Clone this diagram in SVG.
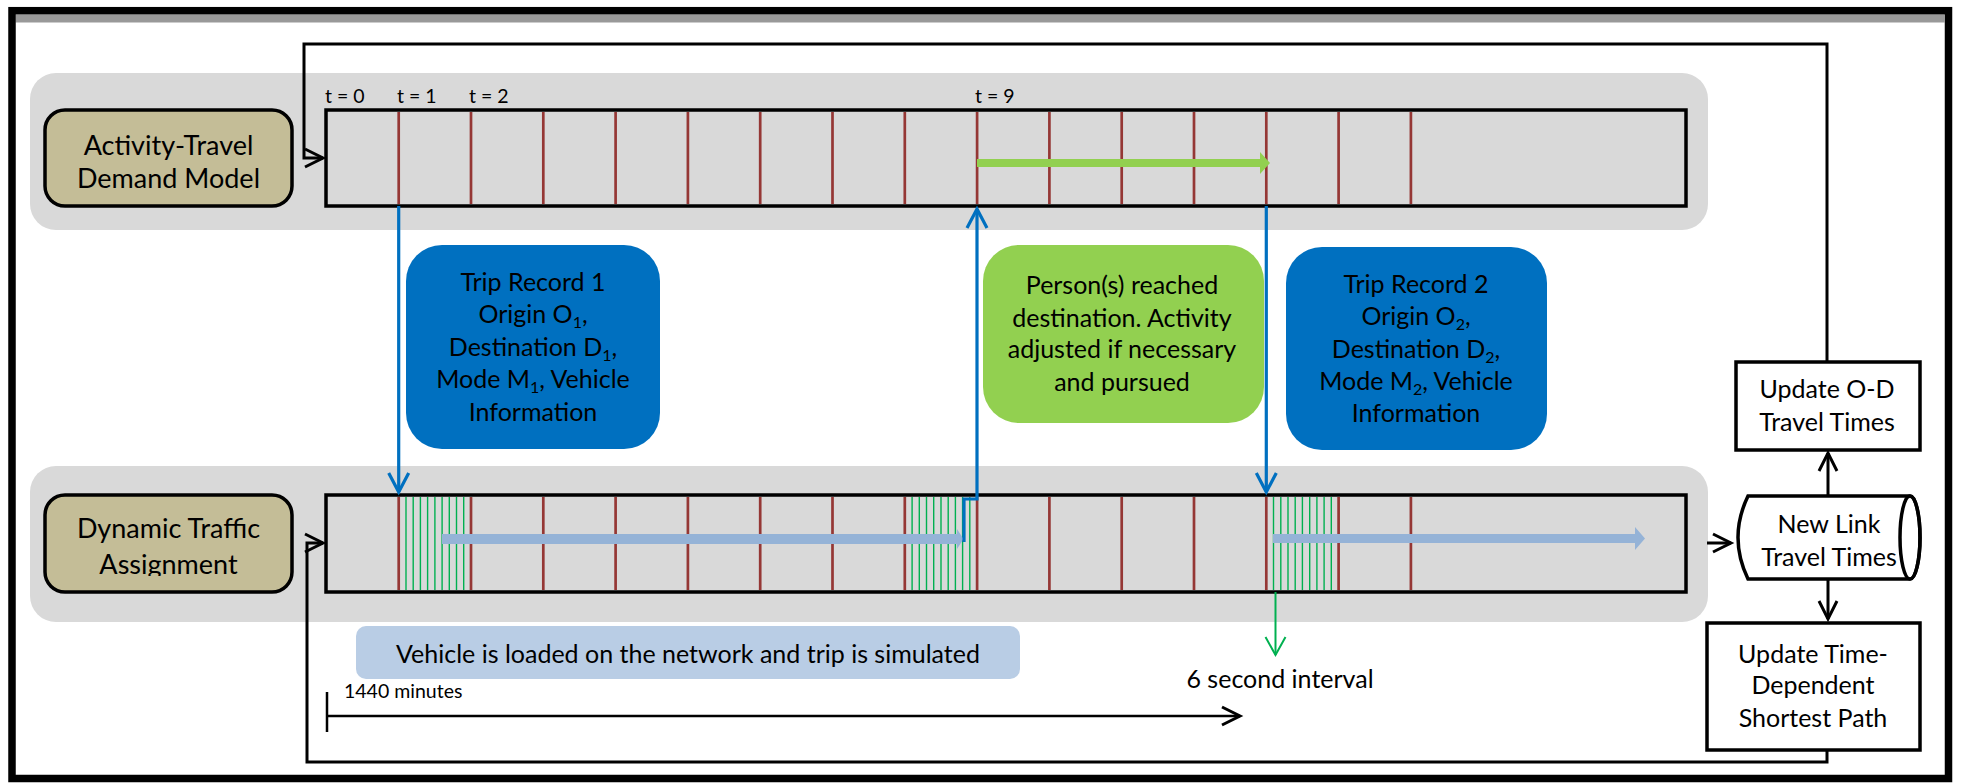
<svg xmlns="http://www.w3.org/2000/svg" width="1961" height="783" viewBox="0 0 1961 783">
<defs>
<style>
text{font-family:Lato,"Liberation Sans",sans-serif;fill:#000}
.m{font-size:25px;text-anchor:middle}
.tan{font-size:27px;text-anchor:middle}
.sm{font-size:19.5px}
.sub{font-size:16px}
.panel{fill:#d9d9d9}
.tl{fill:#d9d9d9;stroke:#000;stroke-width:3.5}
.tanbox{fill:#c4bd97;stroke:#000;stroke-width:3.5}
.wbox{fill:#fff;stroke:#000;stroke-width:3.5}
.red{stroke:#953735;stroke-width:2.7}
.grn{stroke:#00b050;stroke-width:1.4}
.blk{fill:none;stroke:#000;stroke-width:3}
.blu{fill:none;stroke:#0070c0;stroke-width:3.2}
</style>
<marker id="ahK" viewBox="-22 -12 26 24" markerWidth="26" markerHeight="24" refX="0" refY="0" orient="auto" markerUnits="userSpaceOnUse" overflow="visible"><path d="M-18,-9 L0,0 L-18,9" fill="none" stroke="#000" stroke-width="3"/></marker>
<marker id="ahB" viewBox="-24 -13 28 26" markerWidth="28" markerHeight="26" refX="0" refY="0" orient="auto" markerUnits="userSpaceOnUse" overflow="visible"><path d="M-19,-10 L0,0 L-19,10" fill="none" stroke="#0070c0" stroke-width="3.2"/></marker>
<marker id="ahG" viewBox="-22 -12 26 24" markerWidth="26" markerHeight="24" refX="0" refY="0" orient="auto" markerUnits="userSpaceOnUse" overflow="visible"><path d="M-18,-10 L0,0 L-18,10" fill="none" stroke="#00b050" stroke-width="2"/></marker>
<clipPath id="clipDTA"><rect x="45" y="495" width="247" height="81"/></clipPath>
</defs>
<rect x="0" y="0" width="1961" height="783" fill="#fff"/>
<!-- outer frame -->
<g id="frame">
<rect x="15.5" y="14.5" width="1929" height="8" fill="#999"/>
<rect x="12" y="10.7" width="1936.5" height="767.8" fill="none" stroke="#000" stroke-width="7.5"/>
</g>
<!-- panels -->
<g id="panel-top"><rect class="panel" x="30" y="73" width="1678" height="157" rx="26"/></g>
<g id="panel-bottom"><rect class="panel" x="30" y="466" width="1678" height="156" rx="26"/></g>

<!-- top timeline -->
<g id="timeline-top">
<rect class="tl" x="326" y="110" width="1360" height="96"/>
<g class="red">
<line x1="398.7" y1="112" x2="398.7" y2="204"/><line x1="471" y1="112" x2="471" y2="204"/><line x1="543.3" y1="112" x2="543.3" y2="204"/><line x1="615.6" y1="112" x2="615.6" y2="204"/><line x1="687.9" y1="112" x2="687.9" y2="204"/><line x1="760.2" y1="112" x2="760.2" y2="204"/><line x1="832.5" y1="112" x2="832.5" y2="204"/><line x1="904.8" y1="112" x2="904.8" y2="204"/><line x1="977.1" y1="112" x2="977.1" y2="204"/><line x1="1049.4" y1="112" x2="1049.4" y2="204"/><line x1="1121.7" y1="112" x2="1121.7" y2="204"/><line x1="1194" y1="112" x2="1194" y2="204"/><line x1="1266.3" y1="112" x2="1266.3" y2="204"/><line x1="1338.6" y1="112" x2="1338.6" y2="204"/><line x1="1410.9" y1="112" x2="1410.9" y2="204"/>
</g>
<path d="M977,159 H1260 V152 L1270,163 L1260,174 V167 H977 Z" fill="#92d050"/>
<text class="sm" x="325" y="103">t = 0</text>
<text class="sm" x="397" y="103">t = 1</text>
<text class="sm" x="469" y="103">t = 2</text>
<text class="sm" x="975" y="103">t = 9</text>
</g>

<!-- bottom timeline -->
<g id="timeline-bottom">
<rect class="tl" x="326" y="495" width="1360" height="97"/>
<g class="grn">
<line x1="406" y1="497" x2="406" y2="590"/><line x1="413.2" y1="497" x2="413.2" y2="590"/><line x1="420.4" y1="497" x2="420.4" y2="590"/><line x1="427.6" y1="497" x2="427.6" y2="590"/><line x1="434.9" y1="497" x2="434.9" y2="590"/><line x1="442.1" y1="497" x2="442.1" y2="590"/><line x1="449.3" y1="497" x2="449.3" y2="590"/><line x1="456.5" y1="497" x2="456.5" y2="590"/><line x1="463.7" y1="497" x2="463.7" y2="590"/>
<line x1="912.1" y1="497" x2="912.1" y2="590"/><line x1="919.3" y1="497" x2="919.3" y2="590"/><line x1="926.5" y1="497" x2="926.5" y2="590"/><line x1="933.7" y1="497" x2="933.7" y2="590"/><line x1="941" y1="497" x2="941" y2="590"/><line x1="948.2" y1="497" x2="948.2" y2="590"/><line x1="955.4" y1="497" x2="955.4" y2="590"/><line x1="962.6" y1="497" x2="962.6" y2="590"/><line x1="969.8" y1="497" x2="969.8" y2="590"/>
<line x1="1273.5" y1="497" x2="1273.5" y2="590"/><line x1="1280.8" y1="497" x2="1280.8" y2="590"/><line x1="1288" y1="497" x2="1288" y2="590"/><line x1="1295.2" y1="497" x2="1295.2" y2="590"/><line x1="1302.4" y1="497" x2="1302.4" y2="590"/><line x1="1309.7" y1="497" x2="1309.7" y2="590"/><line x1="1316.9" y1="497" x2="1316.9" y2="590"/><line x1="1324.1" y1="497" x2="1324.1" y2="590"/><line x1="1331.3" y1="497" x2="1331.3" y2="590"/>
</g>
<g class="red">
<line x1="398.7" y1="497" x2="398.7" y2="590"/><line x1="471" y1="497" x2="471" y2="590"/><line x1="543.3" y1="497" x2="543.3" y2="590"/><line x1="615.6" y1="497" x2="615.6" y2="590"/><line x1="687.9" y1="497" x2="687.9" y2="590"/><line x1="760.2" y1="497" x2="760.2" y2="590"/><line x1="832.5" y1="497" x2="832.5" y2="590"/><line x1="904.8" y1="497" x2="904.8" y2="590"/><line x1="977.1" y1="497" x2="977.1" y2="590"/><line x1="1049.4" y1="497" x2="1049.4" y2="590"/><line x1="1121.7" y1="497" x2="1121.7" y2="590"/><line x1="1194" y1="497" x2="1194" y2="590"/><line x1="1266.3" y1="497" x2="1266.3" y2="590"/><line x1="1338.6" y1="497" x2="1338.6" y2="590"/><line x1="1410.9" y1="497" x2="1410.9" y2="590"/>
</g>
<path d="M442,534 H957 V529 L963.5,539 L957,549 V544 H442 Z" fill="#95b3d7"/>
<path d="M1273,534 H1635 V527 L1645,538.5 L1635,550 V543 H1273 Z" fill="#95b3d7"/>
</g>

<!-- model boxes -->
<g id="activity-travel">
<rect class="tanbox" x="45" y="110" width="247" height="96" rx="20"/>
<text class="tan" x="168.5" y="155">Activity-Travel</text>
<text class="tan" x="168.5" y="188">Demand Model</text>
</g>
<g id="dta">
<rect class="tanbox" x="45" y="495" width="247" height="97" rx="20"/>
<g clip-path="url(#clipDTA)">
<text class="tan" x="168.5" y="538">Dynamic Traffic</text>
<text class="tan" x="168.5" y="574">Assignment</text>
</g>
</g>

<!-- callouts -->
<g id="trip-record-1">
<rect x="406" y="245" width="254" height="204" rx="36" fill="#0070c0"/>
<text class="m" x="533" y="291">Trip Record 1</text>
<text class="m" x="533" y="323">Origin O<tspan class="sub" dy="5">1</tspan><tspan dy="-5">,</tspan></text>
<text class="m" x="533" y="356">Destination D<tspan class="sub" dy="5">1</tspan><tspan dy="-5">,</tspan></text>
<text class="m" x="533" y="388">Mode M<tspan class="sub" dy="5">1</tspan><tspan dy="-5">, Vehicle</tspan></text>
<text class="m" x="533" y="421">Information</text>
</g>
<g id="person-reached">
<rect x="983" y="245" width="281" height="178" rx="36" fill="#92d050"/>
<text class="m" x="1122" y="294">Person(s) reached</text>
<text class="m" x="1122" y="327">destination. Activity</text>
<text class="m" x="1122" y="358">adjusted if necessary</text>
<text class="m" x="1122" y="391">and pursued</text>
</g>
<g id="trip-record-2">
<rect x="1286" y="247" width="261" height="203" rx="36" fill="#0070c0"/>
<text class="m" x="1416" y="293">Trip Record 2</text>
<text class="m" x="1416" y="325">Origin O<tspan class="sub" dy="5">2</tspan><tspan dy="-5">,</tspan></text>
<text class="m" x="1416" y="358">Destination D<tspan class="sub" dy="5">2</tspan><tspan dy="-5">,</tspan></text>
<text class="m" x="1416" y="390">Mode M<tspan class="sub" dy="5">2</tspan><tspan dy="-5">, Vehicle</tspan></text>
<text class="m" x="1416" y="422">Information</text>
</g>
<g id="vehicle-loaded">
<rect x="356" y="626" width="664" height="53" rx="10" fill="#b9cde5"/>
<text class="m" x="688" y="663">Vehicle is loaded on the network and trip is simulated</text>
</g>

<!-- right side -->
<g id="update-od">
<rect class="wbox" x="1736" y="362" width="184" height="88"/>
<text class="m" x="1827" y="398">Update O-D</text>
<text class="m" x="1827" y="431">Travel Times</text>
</g>
<g id="new-link">
<path d="M1748,496 H1910 A10,41.5 0 0 1 1910,579 H1748 Q1728,537.5 1748,496 Z" fill="#fff" stroke="#000" stroke-width="3.5"/>
<ellipse cx="1910" cy="537.5" rx="10" ry="41.5" fill="none" stroke="#000" stroke-width="3.5"/>
<text class="m" x="1829" y="533">New Link</text>
<text class="m" x="1829" y="566">Travel Times</text>
</g>
<g id="update-tdsp">
<rect class="wbox" x="1707" y="623" width="213" height="127"/>
<text class="m" x="1813" y="663">Update Time-</text>
<text class="m" x="1813" y="694">Dependent</text>
<text class="m" x="1813" y="727">Shortest Path</text>
</g>

<!-- labels -->
<g id="labels">
<text class="m" x="1280" y="688">6 second interval</text>
<text class="sm" x="344" y="698">1440 minutes</text>
</g>

<!-- connectors -->
<g id="connectors">
<path class="blk" d="M1827,362 V44 H304 V158 H323" marker-end="url(#ahK)"/>
<path class="blk" d="M1827,750 V762 H307 V543 H323" marker-end="url(#ahK)"/>
<path class="blk" d="M1707,543 H1731" marker-end="url(#ahK)"/>
<path class="blk" d="M1828,496 V453" marker-end="url(#ahK)"/>
<path class="blk" d="M1828,579 V619" marker-end="url(#ahK)"/>
<path class="blu" d="M398.7,206 V492" marker-end="url(#ahB)"/>
<path class="blu" d="M964,542 V499 H977 V209" marker-end="url(#ahB)"/>
<path class="blu" d="M1266.3,206 V492" marker-end="url(#ahB)"/>
<path d="M1275.5,592 V655" fill="none" stroke="#00b050" stroke-width="2" marker-end="url(#ahG)"/>
<path d="M327,692 V732 M327,716 H1239" fill="none" stroke="#000" stroke-width="2.5"/>
<path d="M1239,716 H1240" fill="none" stroke="#000" stroke-width="2.5" marker-end="url(#ahK)"/>
</g>
</svg>
